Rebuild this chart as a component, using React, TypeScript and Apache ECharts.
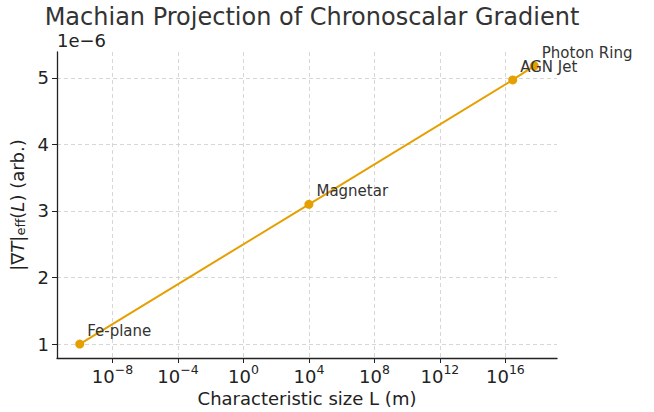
import React, { useEffect, useRef } from "react";
import * as echarts from "echarts";

const names = ["Fe-plane", "Magnetar", "AGN Jet", "Photon Ring"];
const sizeL = [1e-10, 1e4, 2.8e16, 5.8e17];
const gradient = [1.0, 3.1, 4.97, 5.18]; // ×1e-6
const xTickExps = [-8, -4, 0, 4, 8, 12, 16];
const yTicks = [1, 2, 3, 4, 5];

const FONT = "DejaVu Sans";
const ORANGE = "#E69F00";

export default function App() {
  const ref = useRef<HTMLDivElement>(null);
  useEffect(() => {
    document.body.style.margin = "0";
    const chart = echarts.init(ref.current!, null, { renderer: "svg" });
    const lx = sizeL.map((v) => Math.log10(v));
    const xMin = Math.min(...lx), xMax = Math.max(...lx);
    const xPad = (xMax - xMin) * 0.05;
    const yMin = Math.min(...gradient), yMax = Math.max(...gradient);
    const yPad = (yMax - yMin) * 0.05;
    const data = lx.map((x, i) => ({ value: [x, gradient[i]], name: names[i] }));
    chart.setOption({
      animation: false,
      textStyle: { fontFamily: FONT },
      title: {
        text: "Machian Projection of Chronoscalar Gradient",
        left: 307,
        textAlign: "center",
        top: 0,
        textStyle: { fontFamily: FONT, fontSize: 24, fontWeight: "normal", color: "#333" },
      },
      grid: { left: 57, right: 97, top: 52, bottom: 54, outerBoundsMode: "none", containLabel: false },
      xAxis: {
        type: "value",
        min: xMin - xPad,
        max: xMax + xPad,
        name: "Characteristic size L (m)",
        nameLocation: "middle",
        nameGap: 25,
        nameTextStyle: { fontFamily: FONT, fontSize: 18, color: "#222" },
        axisLine: { show: true, onZero: false, lineStyle: { color: "#222", width: 1.3 } },
        axisTick: { show: true, inside: false, length: 5, customValues: xTickExps, lineStyle: { color: "#222" } },
        axisLabel: {
          customValues: xTickExps,
          margin: 5,
          formatter: (v: number) => `{b|10}{s|${v < 0 ? "\u2212" + -v : v}}`,
          rich: {
            b: { fontFamily: FONT, fontSize: 18, color: "#222", verticalAlign: "bottom", lineHeight: 22 },
            s: { fontFamily: FONT, fontSize: 12.5, color: "#222", verticalAlign: "top", lineHeight: 12 },
          },
        },
        splitLine: { show: true, lineStyle: { color: "#cccccc", type: [4, 3], width: 0.8 } },
      },
      yAxis: {
        type: "value",
        min: yMin - yPad,
        max: yMax + yPad,
        name: "{n||\u2207}{i|T}{n||}{sub|eff}{n|(}{i|L}{n|) (arb.)}",
        nameLocation: "middle",
        nameGap: 27,
        nameTextStyle: {
          rich: {
            n: { fontFamily: FONT, fontSize: 18, color: "#222", verticalAlign: "bottom", lineHeight: 22 },
            i: { fontFamily: FONT, fontSize: 18, fontStyle: "italic", color: "#222", verticalAlign: "bottom", lineHeight: 22 },
            sub: { fontFamily: FONT, fontSize: 13, color: "#222", verticalAlign: "bottom", lineHeight: 16 },
          },
        },
        axisLine: { show: true, onZero: false, lineStyle: { color: "#222", width: 1.3 } },
        axisTick: { show: true, inside: false, length: 5, customValues: yTicks, lineStyle: { color: "#222" } },
        axisLabel: {
          customValues: yTicks,
          margin: 8,
          fontFamily: FONT,
          fontSize: 18,
          color: "#222",
        },
        splitLine: { show: true, lineStyle: { color: "#cccccc", type: [4, 3], width: 0.8 } },
      },
      graphic: [
        {
          type: "text",
          left: 57,
          top: 31,
          style: { text: "1e\u22126", fontFamily: FONT, fontSize: 18, fill: "#222" },
        },
      ],
      series: [
        {
          type: "line",
          data,
          symbol: "circle",
          symbolSize: 9,
          showAllSymbol: true,
          lineStyle: { color: ORANGE, width: 2 },
          itemStyle: { color: ORANGE },
          label: {
            show: true,
            position: "right",
            distance: 3,
            offset: [0, -13],
            formatter: (p: any) => p.name,
            fontFamily: FONT,
            fontSize: 15,
            color: "#333",
          },
        },
      ],
    });
    return () => chart.dispose();
  }, []);
  return <div ref={ref} style={{ width: 654, height: 412 }} />;
}
